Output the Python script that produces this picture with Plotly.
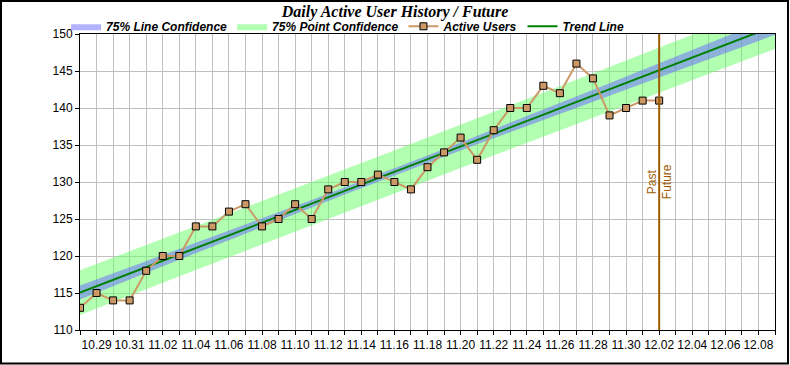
import numpy as np
import plotly.graph_objects as go

# ---- data ----
dates = [
    "2023-10-28", "2023-10-29", "2023-10-30", "2023-10-31", "2023-11-01", "2023-11-02",
    "2023-11-03", "2023-11-04", "2023-11-05", "2023-11-06", "2023-11-07", "2023-11-08",
    "2023-11-09", "2023-11-10", "2023-11-11", "2023-11-12", "2023-11-13", "2023-11-14",
    "2023-11-15", "2023-11-16", "2023-11-17", "2023-11-18", "2023-11-19", "2023-11-20",
    "2023-11-21", "2023-11-22", "2023-11-23", "2023-11-24", "2023-11-25", "2023-11-26",
    "2023-11-27", "2023-11-28", "2023-11-29", "2023-11-30", "2023-12-01", "2023-12-02",
]
active_users = [
    113, 115, 114, 114, 118, 120, 120, 124, 124, 126, 127, 124,
    125, 127, 125, 129, 130, 130, 131, 130, 129, 132, 134, 136,
    133, 137, 140, 140, 143, 142, 146, 144, 139, 140, 141, 141,
]
future_dates = [
    "2023-12-03", "2023-12-04", "2023-12-05", "2023-12-06", "2023-12-07", "2023-12-08", "2023-12-09",
]
mark_date = "2023-12-02"
x_range = ["2023-10-28", "2023-12-09"]
y_ticks = [110, 115, 120, 125, 130, 135, 140, 145, 150]
confidence = 0.75
t_value = 1.170  # Student t, 75% two-sided, df = 34

# ---- linear regression trend and confidence bands ----
y = np.array(active_users, dtype=float)
n = len(y)
xi = np.arange(n, dtype=float)
slope, intercept = np.polyfit(xi, y, 1)
resid = y - (slope * xi + intercept)
s = np.sqrt(np.sum(resid ** 2) / (n - 2))
xbar = xi.mean()
sxx = np.sum((xi - xbar) ** 2)

all_dates = dates + future_dates
xe = np.arange(len(all_dates), dtype=float)
trend = slope * xe + intercept
line_hw = t_value * s * np.sqrt(1.0 / n + (xe - xbar) ** 2 / sxx)
point_hw = t_value * s * np.sqrt(1.0 + 1.0 / n + (xe - xbar) ** 2 / sxx)

band_x = all_dates + all_dates[::-1]

fig = go.Figure()

fig.add_trace(go.Scatter(
    x=band_x, y=list(trend + point_hw) + list((trend - point_hw)[::-1]),
    fill="toself", fillcolor="rgba(102,255,102,0.5)", line=dict(width=0),
    mode="lines", name="75% Point Confidence", legendrank=2, hoverinfo="skip",
))
fig.add_trace(go.Scatter(
    x=band_x, y=list(trend + line_hw) + list((trend - line_hw)[::-1]),
    fill="toself", fillcolor="rgba(102,102,255,0.5)", line=dict(width=0),
    mode="lines", name="75% Line Confidence", legendrank=1, hoverinfo="skip",
))
fig.add_trace(go.Scatter(
    x=all_dates, y=trend, mode="lines", name="Trend Line", legendrank=4,
    line=dict(color="#008000", width=2),
))
fig.add_trace(go.Scatter(
    x=dates, y=active_users, mode="lines+markers", name="Active Users", legendrank=3,
    line=dict(color="#cc9966", width=2),
    marker=dict(symbol="square", size=7, color="#cc9966", line=dict(color="black", width=1)),
))

mark_color = "#9c5b00"
fig.add_shape(type="line", xref="x", yref="paper", x0=mark_date, x1=mark_date, y0=0, y1=1,
              line=dict(color=mark_color, width=2))
fig.add_annotation(x=mark_date, xref="x", y=0.5, yref="paper", text="Past", textangle=-90,
                   showarrow=False, xshift=-7, font=dict(family="Liberation Sans", size=12, color=mark_color))
fig.add_annotation(x=mark_date, xref="x", y=0.5, yref="paper", text="Future", textangle=-90,
                   showarrow=False, xshift=8, font=dict(family="Liberation Sans", size=12, color=mark_color))

# outer frame
fig.add_shape(type="rect", xref="paper", yref="paper",
              x0=(1 - 80) / 695, x1=(788 - 80) / 695, y0=(330 - 363.5) / 296, y1=(330 - 1) / 296,
              line=dict(color="black", width=2), layer="above")

fig.update_layout(
    width=790, height=365,
    margin=dict(l=80, r=15, t=34, b=35, autoexpand=False),
    paper_bgcolor="white", plot_bgcolor="white",
    title=dict(text="Daily Active User History / Future", x=0.5, xref="container", xanchor="center",
               y=1 - 11 / 365, yanchor="middle", pad=dict(t=0, b=0),
               font=dict(family="Liberation Serif", size=16, color="black", weight="bold", style="italic")),
    showlegend=True,
    legend=dict(orientation="h", x=-0.02, xanchor="left", y=1.026, yanchor="middle",
                font=dict(family="Liberation Sans", size=12, color="black", weight="bold", style="italic"),
                bgcolor="rgba(0,0,0,0)", traceorder="normal", itemwidth=30),
    font=dict(family="Liberation Sans", size=12, color="black"),
)

fig.update_xaxes(
    type="date", range=x_range, tick0="2023-10-29", dtick=2 * 86400000, tickformat="%m.%d",
    showgrid=True, gridcolor="#c0c0c0", gridwidth=1,
    minor=dict(dtick=86400000, tick0="2023-10-28", showgrid=True, gridcolor="#c0c0c0",
               ticks="outside", ticklen=4, tickcolor="black"),
    ticks="outside", ticklen=4, tickcolor="black",
    showline=True, linecolor="black", linewidth=1, mirror=True,
    tickfont=dict(family="Liberation Sans", size=12, color="black"), zeroline=False,
)
fig.update_yaxes(
    range=[110, 150], tickvals=y_ticks, showgrid=True, gridcolor="#c0c0c0", gridwidth=1,
    ticks="outside", ticklen=4, tickcolor="black",
    showline=True, linecolor="black", linewidth=1, mirror=True,
    tickfont=dict(family="Liberation Sans", size=12, color="black"), zeroline=False,
)

fig.write_html("out.html", config={"displayModeBar": False},
               post_script="document.body.style.margin='0';document.body.style.overflow='hidden';")
